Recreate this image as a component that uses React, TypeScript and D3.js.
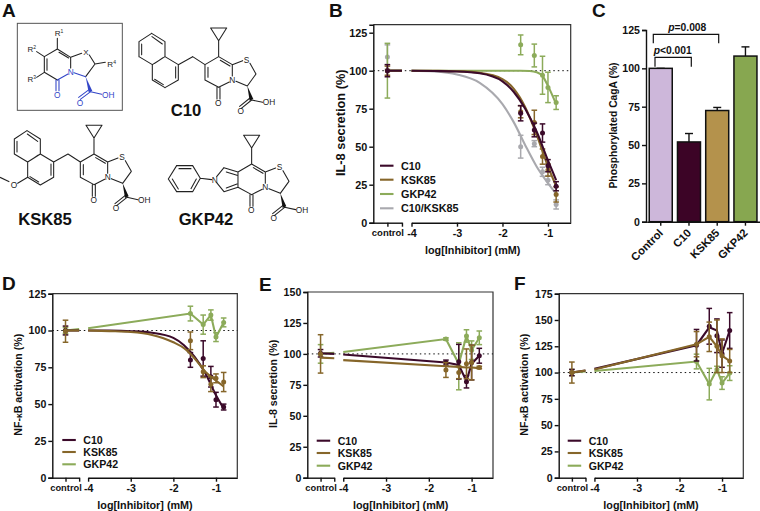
import { useEffect, useRef } from 'react';
import * as d3 from 'd3';

const FONT = '"Liberation Sans", Arial, sans-serif';
const C10_COLOR = '#3b0a2a';
const KSK_COLOR = '#86662a';
const GKP_COLOR = '#8cab5a';
const MIX_COLOR = '#a9a9ae';

// x axis is segmented the same way in every dose panel
const CONTROL = -4.53;
const BREAK = -4.21;
const doses = [CONTROL, -1.6, -1.3, -1.12, -1, -0.82];
const fitDoses = [-4, -3.5, -3, -2.5, -2, -1.75, -1.5, -1.25, -1, -0.82];
const stepDoses = [-4, -1.6, -1.3, -1.12, -1, -0.82];
const gkpFitDoses = [-4, -3, -2, -1.6, -1.4, -1.25, -1.12, -1, -0.82];

// panel B
const bC10 = [100, 72, 61, 59, 37.5, 24];
const bC10Err = [4, 5, 4.5, 6, 4, 3];
const bC10Fit = [100, 99.8, 99.5, 98.3, 93, 86, 75, 60, 41, 28];
const bKsk = [100, 73, 66, 43.5, 34.6, 18.6];
const bKskErr = [3, 4, 8, 5, 4, 5];
const bKskFit = [100, 99.9, 99.6, 98.6, 94.5, 88, 76, 58, 37, 24];
const bGkp = [100, 117, 110, 97, 89, 79];
const bGkpErr = [18, 6.5, 7.5, 12.5, 10, 4.5];
const bGkpFit = [100, 100, 100, 100, 99.8, 99, 96.5, 90, 78];
const bMix = [109, 50, 52, 33.5, 28, 12];
const bMixErr = [8, 7.5, 2, 3, 3, 3];
const bMixFit = [100, 99.5, 97.5, 92, 78, 66, 51, 37, 26, 19];

// panel D
const dC10 = [100, 80, 81, 68.6, 53, 48];
const dC10Err = [3, 5, 12, 7, 5, 2];
const dC10Fit = [100, 99.9, 99.5, 98.5, 95, 90, 82, 71, 56, 47];
const dKsk = [99.5, 93, 72, 63.5, 67.5, 65];
const dKskErr = [7.5, 6, 4, 5, 3, 6.5];
const dKskFit = [100, 99.6, 99, 97, 92, 88, 81, 72, 66, 62];
const dGkp = [100, 111.5, 104, 110.5, 95.5, 105.5];
const dGkpErr = [2, 5, 6.5, 3.5, 3, 3];
const dGkpLine = [101.5, 111.5, 104, 110.5, 95.5, 105.5];

// panel E
const eC10 = [100.5, 93, 93.7, 77.5, 93, 98.5];
const eC10Err = [3, 2, 14, 5, 14, 6];
const eC10Line = [99.5, 93, 91, 78, 92, 98.5];
const eKsk = [100, 87, 85, 92, 93, 89];
const eKskErr = [15.5, 6, 5, 12, 14, 1];
const eKskLine = [95, 90, 89.5, 89, 89, 88.5];
const eGkp = [100, 112, 90, 114.5, 103, 113];
const eGkpErr = [7.5, 1, 19, 5, 7.5, 5.5];
const eGkpLine = [101.5, 112, 92, 114.5, 103, 113];

// panel F
const fC10 = [100, 126, 144, 135, 118, 140];
const fC10Err = [3, 15, 17, 16, 13, 17];
const fC10Line = [103.5, 126, 143, 140, 118, 140];
const fKsk = [100, 127, 134, 125, 116, 111];
const fKskErr = [10, 12, 14, 25, 16, 11];
const fKskLine = [103, 127, 134, 125, 116, 111];
const fGkp = [100, 110.5, 89, 103, 90, 99.5];
const fGkpErr = [3, 7, 15, 3, 6, 7];
const fGkpLine = [101.5, 110.5, 89, 103, 90, 99.5];

// panel C
const barNames = ['Control', 'C10', 'KSK85', 'GKP42'];
const barValues = [100, 52, 72.5, 108];
const barErrs = [0, 5.5, 2, 6];
const barFills = ['#cdb7da', '#3c0426', '#b4924c', '#87a750'];

type Bond = number[];
const toPath = (bonds: Bond[]) => bonds.map(b => `M${b[0]},${b[1]}L${b[2]},${b[3]}`).join('');

// chemical drawings, in 3x coordinates of the C10 core
const coreBonds: Bond[] = [
  [632, 84, 680, 84], [680, 84, 656, 122], [656, 122, 632, 84], [656, 122, 656, 170],
  [656, 170, 697, 194], [661, 181, 690, 198], [697, 194, 697, 228], [688, 246, 656, 262],
  [656, 262, 615, 240], [615, 240, 615, 194], [615, 194, 656, 170],
  [697, 194, 728, 182], [750, 190, 768, 222], [768, 222, 742, 258], [742, 258, 708, 244],
  [755, 300, 724, 325], [750, 294, 719, 319], [755, 300, 788, 307],
  [651, 262, 651, 297], [660, 262, 660, 297],
];
const ring67Double: Bond[] = [[624, 232, 624, 202]];
const naphBonds: Bond[] = [
  [615, 194, 578, 170], [578, 170, 535, 194],
  [535, 194, 535, 240], [535, 240, 495, 263], [495, 263, 457, 240], [457, 240, 457, 194],
  [457, 194, 495, 170], [495, 170, 535, 194], [527, 200, 527, 234], [490, 254, 464, 238],
  [495, 170, 495, 125], [495, 125, 455, 100], [455, 100, 417, 125], [417, 125, 417, 170],
  [417, 170, 457, 194], [487, 132, 456, 110], [425, 132, 425, 164], [464, 190, 488, 174],
];
const methoxyBonds: Bond[] = [[457, 240, 427, 258]];
const pyrroleBonds: Bond[] = [
  [615, 194, 573, 181], [615, 240, 573, 253], [612, 204, 580, 194], [612, 230, 580, 242],
  [573, 181, 551, 208], [573, 253, 551, 226], [536, 217, 502, 213],
  [502, 213, 479, 175], [479, 175, 431, 175], [431, 175, 406, 215], [406, 215, 431, 253],
  [431, 253, 479, 253], [479, 253, 502, 213], [474, 184, 438, 184], [418, 215, 436, 245], [474, 244, 490, 215],
];
const scaffoldBlack: Bond[] = [
  [172, 115, 172, 147], [172, 147, 133, 170], [133, 170, 133, 217], [141, 176, 141, 211],
  [172, 147, 212, 172], [177, 157, 206, 174], [212, 172, 212, 204], [133, 170, 110, 155], [133, 217, 110, 232],
  [212, 172, 245, 160], [268, 165, 285, 192], [285, 192, 257, 230], [285, 192, 316, 187],
  [133, 217, 172, 240],
];
const scaffoldBlue: Bond[] = [
  [204, 222, 172, 240], [168, 240, 168, 272], [177, 240, 177, 272], [257, 230, 222, 218],
  [272, 275, 241, 298], [267, 269, 236, 292], [272, 275, 305, 283],
];
const BLUE = '#3346c8';

function Sub({ x, y, base, sup }: { x: number; y: number; base: string; sup: string }) {
  return (
    <text x={x} y={y} fontSize={24} fontFamily={FONT} fill="#222" textAnchor="middle">
      {base}<tspan fontSize={15} dy={-8}>{sup}</tspan>
    </text>
  );
}

function Core({ dx, dy, extra }: { dx: number; dy: number; extra: Bond[] }) {
  const label = { fontSize: 25, fontFamily: FONT, fill: '#222', textAnchor: 'middle' as const };
  return (
    <g transform={`translate(${dx},${dy})`}>
      <path d={toPath(coreBonds.concat(extra))} stroke="#222" strokeWidth={3.2} fill="none" strokeLinecap="round" />
      <path d="M742,258L749,302L760,297Z" fill="#111" />
      <text x={740} y={189} {...label}>S</text>
      <text x={697} y={249} {...label}>N</text>
      <text x={655} y={317} {...label}>O</text>
      <text x={722} y={342} {...label}>O</text>
      <text x={807} y={316} {...label}>OH</text>
    </g>
  );
}

function Structures() {
  const title = { fontSize: 50, fontWeight: 700, fontFamily: FONT, fill: '#111', textAnchor: 'middle' as const };
  return (
    <g transform="scale(0.3333)">
      <rect x={52} y={70} width={315} height={261} fill="none" stroke="#555" strokeWidth={3} />
      <path d={toPath(scaffoldBlack)} stroke="#222" strokeWidth={3.2} fill="none" strokeLinecap="round" />
      <path d={toPath(scaffoldBlue)} stroke={BLUE} strokeWidth={3.2} fill="none" strokeLinecap="round" />
      <path d="M257,230L266,277L277,273Z" fill={BLUE} />
      <Sub x={177} y={108} base="R" sup="1" />
      <Sub x={95} y={155} base="R" sup="2" />
      <Sub x={95} y={246} base="R" sup="3" />
      <Sub x={335} y={201} base="R" sup="4" />
      <text x={258} y={164} fontSize={24} fontFamily={FONT} fill="#222" textAnchor="middle">X</text>
      <text x={212} y={224} fontSize={25} fontFamily={FONT} fill={BLUE} textAnchor="middle">N</text>
      <text x={172} y={294} fontSize={25} fontFamily={FONT} fill={BLUE} textAnchor="middle">O</text>
      <text x={240} y={317} fontSize={25} fontFamily={FONT} fill={BLUE} textAnchor="middle">O</text>
      <text x={325} y={293} fontSize={25} fontFamily={FONT} fill={BLUE} textAnchor="middle">OH</text>

      <Core dx={0} dy={0} extra={ring67Double.concat(naphBonds)} />
      <Core dx={-374} dy={292} extra={ring67Double.concat(naphBonds, methoxyBonds)} />
      <text x={42} y={564} fontSize={25} fontFamily={FONT} fill="#222" textAnchor="middle">O</text>
      <path d="M28,545L0,532" stroke="#222" strokeWidth={3.2} />
      <Core dx={99} dy={322} extra={pyrroleBonds} />
      <text x={644} y={548} fontSize={25} fontFamily={FONT} fill="#222" textAnchor="middle">N</text>

      <text x={558} y={347} {...title}>C10</text>
      <text x={135} y={675} {...title}>KSK85</text>
      <text x={618} y={675} {...title}>GKP42</text>
    </g>
  );
}

type Series = {
  name: string; color: string; means: number[]; errs: number[];
  stub: number[]; lineX: number[]; lineY: number[]; fit: boolean;
};

type Layout = {
  left: number; right: number; top: number; bottom: number; yMax: number; yTicks: number[];
  yLabel: string; yLabelX: number; yLabelFont: number; xLabelX: number; yFont: number;
  legendX: number; legendYs: number[]; legendFont: number;
};

const fmt = (d: d3.NumberValue) => String(d);

function drawDose(svg: any, lay: Layout, drawOrder: Series[], legendOrder: Series[]) {
  const x = d3.scaleLinear().domain([-4.84, -0.5]).range([lay.left, lay.right]);
  const y = d3.scaleLinear().domain([0, lay.yMax]).range([lay.bottom, lay.top]);
  const g = svg.append('g');

  // frame top + right
  g.append('path').attr('d', `M${lay.left},${lay.top}H${lay.right}V${lay.bottom}`)
    .attr('fill', 'none').attr('stroke', '#333').attr('stroke-width', 1.2);
  g.append('line').attr('x1', lay.left).attr('x2', lay.right).attr('y1', y(100)).attr('y2', y(100))
    .attr('stroke', '#111').attr('stroke-width', 1).attr('stroke-dasharray', '1.5,3');

  drawOrder.forEach(s => {
    const stubPts: [number, number][] = [[x(CONTROL), y(s.stub[0])], [x(BREAK), y(s.stub[1])]];
    const pts: [number, number][] = s.lineX.map((d, i) => [x(d), y(s.lineY[i])]);
    const gen = d3.line().curve(s.fit ? d3.curveMonotoneX : d3.curveLinear);
    g.append('path').attr('d', gen(stubPts)).attr('fill', 'none').attr('stroke', s.color).attr('stroke-width', 2.1);
    g.append('path').attr('d', gen(pts)).attr('fill', 'none').attr('stroke', s.color).attr('stroke-width', 2.1);
    const pt = g.append('g').selectAll('g').data(doses).join('g')
      .attr('transform', (d: number) => `translate(${x(d)},0)`)
      .attr('stroke', s.color).attr('stroke-width', 1.5);
    pt.append('line').attr('y1', (_: number, i: number) => y(s.means[i] + s.errs[i])).attr('y2', (_: number, i: number) => y(s.means[i] - s.errs[i]));
    pt.append('line').attr('x1', -2.8).attr('x2', 2.8).attr('y1', (_: number, i: number) => y(s.means[i] + s.errs[i])).attr('y2', (_: number, i: number) => y(s.means[i] + s.errs[i]));
    pt.append('line').attr('x1', -2.8).attr('x2', 2.8).attr('y1', (_: number, i: number) => y(s.means[i] - s.errs[i])).attr('y2', (_: number, i: number) => y(s.means[i] - s.errs[i]));
    pt.append('circle').attr('cy', (_: number, i: number) => y(s.means[i])).attr('r', 2.5).attr('fill', s.color).attr('stroke', 'none');
  });

  // axes
  const yAxis = d3.axisLeft(y).tickValues(lay.yTicks).tickSize(4).tickPadding(2).tickFormat(fmt);
  const gy = g.append('g').attr('transform', `translate(${lay.left},0)`).call(yAxis);
  const xLeft = d3.scaleLinear().domain([-4.84, BREAK]).range([x(-4.84), x(BREAK)]);
  const xRight = d3.scaleLinear().domain([-4, -0.5]).range([x(-4), x(-0.5)]);
  const axLeft = d3.axisBottom(xLeft).tickValues([CONTROL, BREAK]).tickSize(4).tickSizeOuter(0).tickPadding(3)
    .tickFormat(d => (d === CONTROL ? 'control' : ''));
  const axRight = d3.axisBottom(xRight).tickValues([-4, -3, -2, -1]).tickSize(4).tickSizeOuter(0).tickPadding(3).tickFormat(fmt);
  const ga = g.append('g').attr('transform', `translate(0,${lay.bottom})`).call(axLeft);
  const gb = g.append('g').attr('transform', `translate(0,${lay.bottom})`).call(axRight);
  [gy, ga, gb].forEach(a => {
    a.selectAll('path,line').attr('stroke', '#111').attr('stroke-width', 1.4);
    a.selectAll('text').attr('font-family', FONT).attr('font-weight', 700).attr('fill', '#111').attr('font-size', lay.yFont);
  });
  ga.selectAll('text').attr('font-size', lay.yFont - 1.3);

  // titles
  const yt = g.append('text').attr('transform', `translate(${lay.yLabelX},${(lay.bottom + lay.top) / 2 - 1}) rotate(-90)`)
    .attr('text-anchor', 'middle').attr('font-family', FONT).attr('font-weight', 700)
    .attr('font-size', lay.yLabelFont).attr('fill', '#111');
  if (lay.yLabel.startsWith('NF')) {
    yt.append('tspan').text('NF-');
    yt.append('tspan').attr('font-size', 8.5).text('κ');
    yt.append('tspan').text('B activation (%)');
  } else yt.text(lay.yLabel);
  g.append('text').attr('x', lay.xLabelX).attr('y', lay.bottom + 31).attr('text-anchor', 'middle')
    .attr('font-family', FONT).attr('font-weight', 700).attr('font-size', 10.8).attr('fill', '#111').text('log[Inhibitor] (mM)');

  // legend
  legendOrder.forEach((s, i) => {
    g.append('line').attr('x1', lay.legendX).attr('x2', lay.legendX + 13.5).attr('y1', lay.legendYs[i]).attr('y2', lay.legendYs[i])
      .attr('stroke', s.color).attr('stroke-width', 2.1);
    g.append('text').attr('x', lay.legendX + 21).attr('y', lay.legendYs[i] + 4).attr('font-family', FONT).attr('font-weight', 700)
      .attr('font-size', lay.legendFont).attr('fill', '#111').text(s.name);
  });
}

function drawBars(svg: any) {
  const x = d3.scaleBand().domain(barNames).range([646.7, 759.5]).paddingInner(0.185).paddingOuter(0.09);
  const y = d3.scaleLinear().domain([0, 125]).range([221.7, 30]);
  const g = svg.append('g');
  const bars = g.selectAll('g.b').data(barNames).join('g').attr('class', 'b');
  bars.append('line').attr('x1', (d: string) => x(d)! + x.bandwidth() / 2).attr('x2', (d: string) => x(d)! + x.bandwidth() / 2)
    .attr('y1', (_: string, i: number) => y(barValues[i])).attr('y2', (_: string, i: number) => y(barValues[i] + barErrs[i]))
    .attr('stroke', '#111').attr('stroke-width', 1.4);
  bars.append('line').attr('x1', (d: string) => x(d)! + x.bandwidth() / 2 - 4).attr('x2', (d: string) => x(d)! + x.bandwidth() / 2 + 4)
    .attr('y1', (_: string, i: number) => y(barValues[i] + barErrs[i])).attr('y2', (_: string, i: number) => y(barValues[i] + barErrs[i]))
    .attr('stroke', '#111').attr('stroke-width', 1.4);
  bars.append('rect').attr('x', (d: string) => x(d)!).attr('width', x.bandwidth())
    .attr('y', (_: string, i: number) => y(barValues[i])).attr('height', (_: string, i: number) => y(0) - y(barValues[i]))
    .attr('fill', (_: string, i: number) => barFills[i]).attr('stroke', '#111').attr('stroke-width', 1.5);

  const gy = g.append('g').attr('transform', 'translate(646,0)')
    .call(d3.axisLeft(y).tickValues([0, 25, 50, 75, 100, 125]).tickSize(4).tickPadding(2).tickFormat(fmt));
  const gx = g.append('g').attr('transform', 'translate(0,221.7)')
    .call(d3.axisBottom(x).tickSize(4).tickSizeOuter(0));
  [gy, gx].forEach(a => {
    a.selectAll('path,line').attr('stroke', '#111').attr('stroke-width', 1.4);
    a.selectAll('text').attr('font-family', FONT).attr('font-weight', 700).attr('fill', '#111').attr('font-size', 10.6);
  });
  gx.selectAll('text').attr('text-anchor', 'end').attr('dy', 0).attr('y', 0).attr('font-size', 11.2)
    .attr('transform', 'translate(3,12) rotate(-45)');

  g.append('text').attr('transform', 'translate(617,125.5) rotate(-90)').attr('text-anchor', 'middle')
    .attr('font-family', FONT).attr('font-weight', 700).attr('font-size', 10.3).attr('fill', '#111').text('Phosphorylated CagA (%)');

  const bracket = (x1: number, x2: number, yy: number, y2: number) =>
    g.append('path').attr('d', `M${x1},${y2}V${yy}H${x2}V${y2}`).attr('fill', 'none').attr('stroke', '#111').attr('stroke-width', 1.2);
  bracket(653.3, 718.7, 34.3, 43.3);
  bracket(655, 691.3, 57.3, 66.7);
  const pText = (cx: number, by: number, rest: string) => {
    const t = g.append('text').attr('x', cx).attr('y', by).attr('text-anchor', 'middle').attr('font-family', FONT)
      .attr('font-weight', 700).attr('font-size', 10.3).attr('fill', '#111');
    t.append('tspan').attr('font-style', 'italic').text('p');
    t.append('tspan').text(rest);
  };
  pText(687.3, 31, '=0.008');
  pText(672.7, 54.3, '<0.001');
}

export default function App() {
  const ref = useRef<SVGSVGElement>(null);
  useEffect(() => {
    const svg = d3.select(ref.current).select('g.charts');
    svg.selectAll('*').remove();

    const mk = (name: string, color: string, means: number[], errs: number[], lineX: number[], lineY: number[], fit: boolean, stub: number[] = [100, 100]): Series =>
      ({ name, color, means, errs, lineX, lineY, fit, stub });

    const bs = [
      mk('C10', C10_COLOR, bC10, bC10Err, fitDoses, bC10Fit, true),
      mk('KSK85', KSK_COLOR, bKsk, bKskErr, fitDoses, bKskFit, true),
      mk('GKP42', GKP_COLOR, bGkp, bGkpErr, gkpFitDoses, bGkpFit, true),
      mk('C10/KSK85', MIX_COLOR, bMix, bMixErr, fitDoses, bMixFit, true),
    ];
    drawDose(svg, {
      left: 373.3, right: 570.7, top: 24.7, bottom: 222.7, yMax: 130.26, yTicks: [0, 25, 50, 75, 100, 125],
      yLabel: 'IL-8 secretion (%)', yLabelX: 345, yLabelFont: 12.8, xLabelX: 472.7, yFont: 10.8,
      legendX: 380, legendYs: [165.7, 179.7, 194, 208.3], legendFont: 10.8,
    }, [bs[3], bs[2], bs[1], bs[0]], bs);

    const ds = [
      mk('C10', C10_COLOR, dC10, dC10Err, fitDoses, dC10Fit, true),
      mk('KSK85', KSK_COLOR, dKsk, dKskErr, fitDoses, dKskFit, true),
      mk('GKP42', GKP_COLOR, dGkp, dGkpErr, stepDoses, dGkpLine, false, [100, 101]),
    ];
    drawDose(svg, {
      left: 52.3, right: 237.3, top: 293.7, bottom: 477.7, yMax: 125, yTicks: [0, 25, 50, 75, 100, 125],
      yLabel: 'NF-κB activation (%)', yLabelX: 22, yLabelFont: 10.6, xLabelX: 145, yFont: 10.6,
      legendX: 62.3, legendYs: [440, 452, 464.3], legendFont: 10.6,
    }, [ds[2], ds[0], ds[1]], ds);

    const es = [
      mk('C10', C10_COLOR, eC10, eC10Err, stepDoses, eC10Line, false, [100.5, 100]),
      mk('KSK85', KSK_COLOR, eKsk, eKskErr, stepDoses, eKskLine, false, [97, 96.5]),
      mk('GKP42', GKP_COLOR, eGkp, eGkpErr, stepDoses, eGkpLine, false, [100, 100.8]),
    ];
    drawDose(svg, {
      left: 307.3, right: 493, top: 292, bottom: 477.7, yMax: 150, yTicks: [0, 25, 50, 75, 100, 125, 150],
      yLabel: 'IL-8 secretion (%)', yLabelX: 277, yLabelFont: 10.6, xLabelX: 400.7, yFont: 10.6,
      legendX: 316.7, legendYs: [440.7, 453, 465.7], legendFont: 10.6,
    }, [es[2], es[0], es[1]], es);

    const fs = [
      mk('C10', C10_COLOR, fC10, fC10Err, stepDoses, fC10Line, false, [100, 102]),
      mk('KSK85', KSK_COLOR, fKsk, fKskErr, stepDoses, fKskLine, false, [100, 102]),
      mk('GKP42', GKP_COLOR, fGkp, fGkpErr, stepDoses, fGkpLine, false, [100, 101]),
    ];
    drawDose(svg, {
      left: 558.7, right: 743.3, top: 293.7, bottom: 477.7, yMax: 175, yTicks: [0, 25, 50, 75, 100, 125, 150, 175],
      yLabel: 'NF-κB activation (%)', yLabelX: 528, yLabelFont: 10.6, xLabelX: 651, yFont: 10.6,
      legendX: 567.7, legendYs: [440.7, 453, 465.7], legendFont: 10.6,
    }, [fs[2], fs[0], fs[1]], fs);

    drawBars(svg);
  }, []);

  const letters: [string, number, number][] = [
    ['A', 2, 17], ['B', 329, 17], ['C', 592, 17], ['D', 2, 290], ['E', 259, 290.5], ['F', 514, 290],
  ];
  return (
    <svg ref={ref} width={760} height={511} style={{ position: 'absolute', left: 0, top: 0, display: 'block', background: '#fff' }}>
      <Structures />
      <g className="charts" />
      {letters.map(([t, x, y]) => (
        <text key={t} x={x} y={y} fontFamily={FONT} fontWeight={700} fontSize={19} fill="#111">{t}</text>
      ))}
    </svg>
  );
}
